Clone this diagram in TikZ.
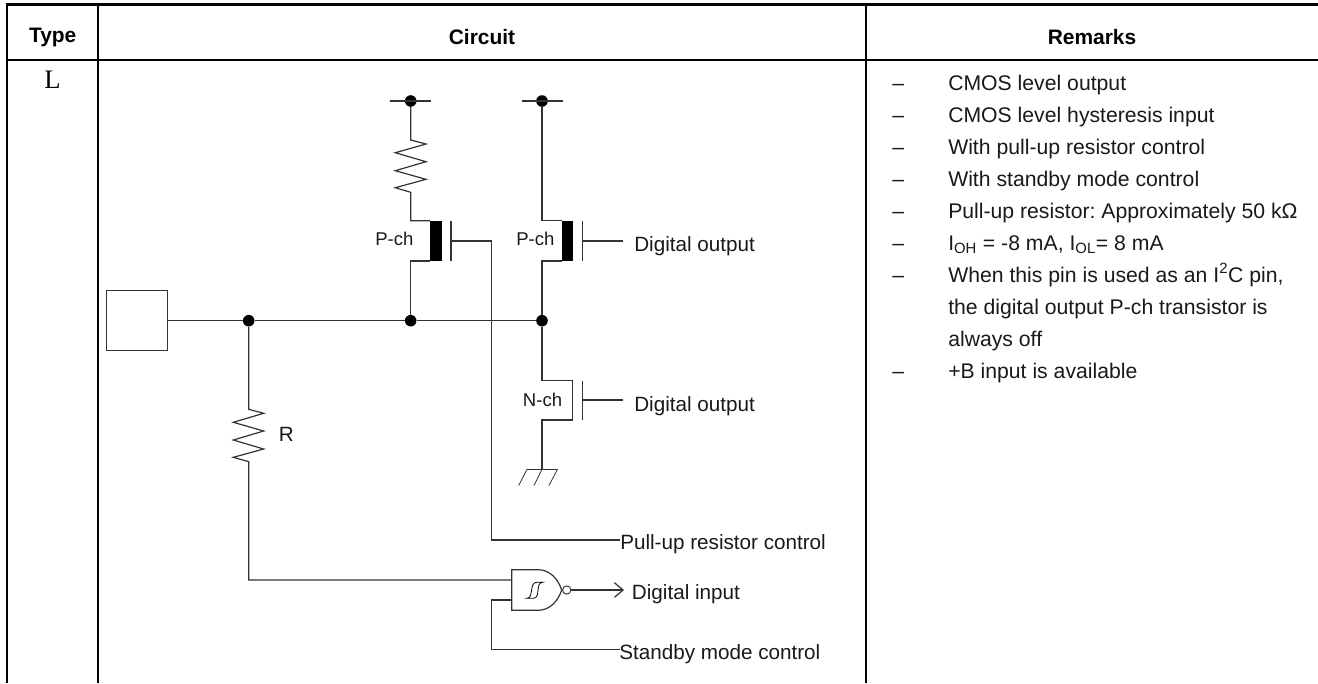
\documentclass[tikz,border=0pt]{standalone}
\usepackage{fontspec}
\setmainfont{Liberation Sans}
\newfontfamily\serifL{Liberation Serif}
\usetikzlibrary{arrows.meta}
\frenchspacing
\tikzset{
  x=0.75pt,y=-0.75pt,
  wire/.style={line width=0.9pt,draw=black!80},
  thinwire/.style={line width=0.6pt,draw=black!80},
  rule/.style={line width=1.6pt,draw=black},
  toprule/.style={line width=2.1pt,draw=black},
  lab/.style={inner sep=0pt,anchor=base west,font=\fontsize{15.5pt}{18pt}\selectfont,text=black!90},
  chlab/.style={inner sep=0pt,anchor=base west,font=\fontsize{13.9pt}{16pt}\selectfont,text=black!90},
  remark/.style={inner sep=0pt,anchor=base west,font=\fontsize{15.9pt}{18pt}\selectfont,text=black!90},
  head/.style={inner sep=0pt,font=\fontsize{15.7pt}{18pt}\bfseries\selectfont},
  junction/.style={circle,fill=black,inner sep=0pt,minimum size=8.7pt},
  bar/.style={fill=black,draw=none}
}
\begin{document}
\begin{tikzpicture}
\useasboundingbox (0,0) rectangle (1318,683);
% table
\coordinate (tl) at (6,4.7); \coordinate (tr) at (1318,4.7);
\coordinate (ltop) at (7,4.7); \coordinate (bl) at (7,683);
\coordinate (c1t) at (98,4.7); \coordinate (c1b) at (98,683);
\coordinate (c2t) at (866,4.7); \coordinate (c2b) at (866,683);
\coordinate (hl) at (7,60); \coordinate (hr) at (1318,60);
\draw[toprule] (tl)--(tr);
\draw[rule] (ltop)--(bl);
\draw[rule] (c1t)--(c1b);
\draw[rule] (c2t)--(c2b);
\draw[rule] (hl)--(hr);
\node[head] (h1) at (52.7,37) {Type};
\node[head] (h2) at (482,37) {Circuit};
\node[head] (h3) at (1092,37) {Remarks};
\node[inner sep=0pt,anchor=base,font=\fontsize{20pt}{22pt}\serifL\selectfont] (typeL) at (52.5,88) {L};
% remarks
\foreach \y/\t in {90/CMOS level output,122/CMOS level hysteresis input,154/With pull-up resistor control,186/With standby mode control,218/{Pull-up resistor: Approximately 50 kΩ},250/{I\textsubscript{OH} = -8 mA, I\textsubscript{OL}= 8 mA},282/{When this pin is used as an I\textsuperscript{2}C pin,},314/{the digital output P-ch transistor is},346/always off,378/+B input is available}{
  \node[remark] at (948,\y) {\t};
}
\foreach \y in {90,122,154,186,218,250,282,378}{
  \node[remark] at (892,\y) {–};
}
% pad and main rail
\node[draw=black!80,line width=0.7pt,minimum width=45.75pt,minimum height=45pt,inner sep=0pt] (pad) at (137.2,320.7) {};
\node[junction] (j1) at (248.7,320.7) {};
\node[junction] (j2) at (410.7,320.7) {};
\node[junction] (j3) at (542,320.7) {};
\draw[wire] (pad.east)--(j1)--(j2)--(j3);
% supplies
\node[junction] (v1) at (410.7,101) {};
\node[junction] (v2) at (542,101) {};
\coordinate (v1l) at (390,101); \coordinate (v1r) at (431,101);
\coordinate (v2l) at (521.5,101); \coordinate (v2r) at (562.5,101);
\draw[wire] (v1l)--(v1r);
\draw[wire] (v2l)--(v2r);
% pull-up branch
\fill[bar] (430,221) rectangle (441.5,261);
\draw[wire] (v1)--(410.7,140)--(426,144)--(395.3,152.7)--(426,161.7)--(395.3,170.7)--(426,179.3)--(395.3,187.7)--(410.7,192.3)--(410.7,220.7)--(430,220.7);
\draw[wire] (430,261)--(410.7,261)--(j2);
\draw[wire] (451,221)--(451,261);
\coordinate (puend) at (620,540);
\draw[wire] (451,241)--(491.7,241)--(491.7,540)--(puend);
\node[chlab] (pch1) at (375,245.7) {P-ch};
\node[lab] (pulabel) at (620,549) {Pull-up resistor control};
% output P
\fill[bar] (562,221) rectangle (573,261);
\draw[wire] (v2)--(542,220.7)--(562,220.7);
\draw[wire] (562,261)--(542,261)--(j3);
\draw[wire] (582.5,221)--(582.5,261);
\coordinate (pg) at (582.5,241);
\coordinate (pgend) at (623,241);
\node[lab] (do1) at (634,251.7) {Digital output};
\draw[wire] (pg)--(pgend);
\node[chlab] (pch2) at (516,245.7) {P-ch};
% output N
\draw[wire] (j3)--(542,380.7)--(572.3,380.7)--(572.3,420)--(542,420)--(542,469.3);
\draw[wire] (582.3,380.7)--(582.3,420);
\coordinate (ng) at (582.3,400);
\coordinate (ngend) at (623,400);
\node[lab] (do2) at (634,411.7) {Digital output};
\draw[wire] (ng)--(ngend);
\node[chlab] (nch) at (522.7,406) {N-ch};
% ground
\coordinate (g1) at (527,469.3); \coordinate (g2) at (542,469.3); \coordinate (g3) at (557.5,469.3);
\draw[thinwire] (g1)--(g3);
\draw[thinwire] (g1)--(518.7,485.5);
\draw[thinwire] (g2)--(534,485.5);
\draw[thinwire] (g3)--(549,485.5);
% R
\draw[wire] (j1)--(248.7,409.3)--(263.7,413.3)--(233.3,422.3)--(263.7,431)--(233.3,440)--(263.7,449)--(233.3,457.3)--(248.7,461.7)--(248.7,580)--(511.7,580);
\node[lab] (rlab) at (278.5,441.7) {R};
% gate
\draw[wire] (511.7,569.7)--(538,569.7) .. controls (550,569.7) and (558,579) .. (561.7,590) .. controls (558,601) and (550,610.3) .. (538,610.3)--(511.7,610.3)--cycle;
\node[circle,draw=black!80,line width=0.7pt,inner sep=0pt,minimum size=6.2pt] (bub) at (566.7,590) {};
\coordinate (dinend) at (624,590);
\draw[wire,-{Straight Barb[length=6.5pt,width=11pt]}] (bub.east)--(dinend);
\node[lab] (dinlab) at (631.7,599.3) {Digital input};
\draw[wire] (511.7,600)--(491.7,600)--(491.7,649.3)--(620,649.3);
\node[lab] (stlab) at (619,659.3) {Standby mode control};
% schmitt symbol
\draw[line width=0.6pt] (526.7,598.3) .. controls (534,598.3) and (529,582.3) .. (536.7,582.3)--(542.7,582.3) .. controls (535,582.3) and (541,598.3) .. (533.3,598.3)--cycle;
\end{tikzpicture}
\end{document}
